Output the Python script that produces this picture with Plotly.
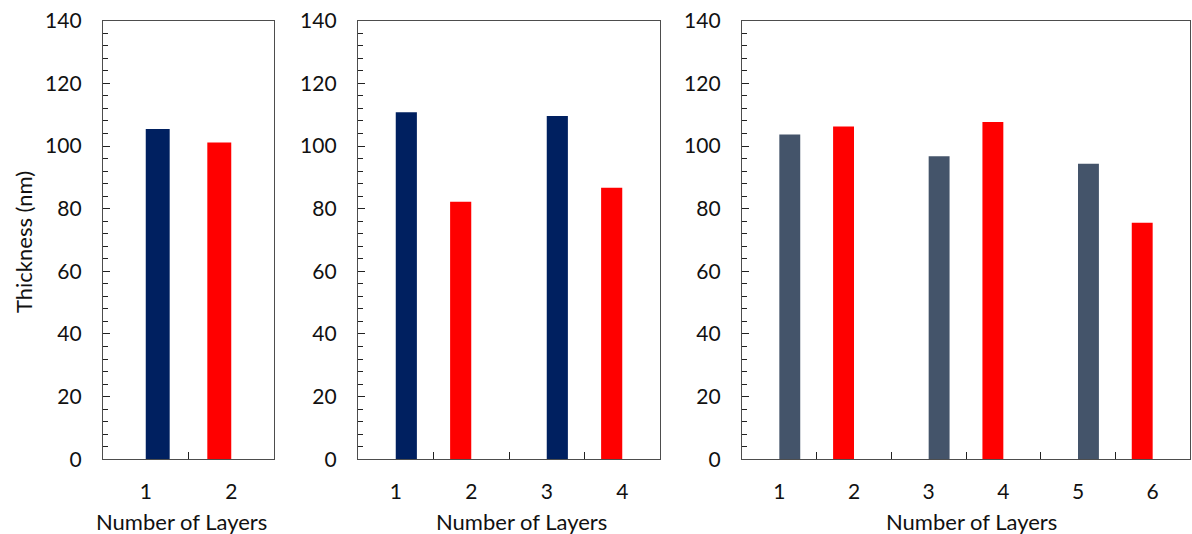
import plotly.graph_objects as go

# ---- data ----
p1_blue_layers = [1]
p1_blue_thickness = [105.4]
p1_red_layers = [2]
p1_red_thickness = [101.1]

p2_blue_layers = [1, 3]
p2_blue_thickness = [110.8, 109.6]
p2_red_layers = [2, 4]
p2_red_thickness = [82.2, 86.7]

p3_blue_layers = [1, 3, 5]
p3_blue_thickness = [103.7, 96.7, 94.3]
p3_red_layers = [2, 4, 6]
p3_red_thickness = [106.2, 107.7, 75.5]

panel_layers = [[1, 2], [1, 2, 3, 4], [1, 2, 3, 4, 5, 6]]
y_ticks = [0, 20, 40, 60, 80, 100, 120, 140]

NAVY = "#002060"
SLATE = "#44546A"
RED = "#FF0000"
LINE = "#4d4d4d"
FONT = "Lato"
FS = 21
FT = 22

W, H = 1192, 534
BW = 0.28

fig = go.Figure()

panels = [
    (p1_blue_layers, p1_blue_thickness, p1_red_layers, p1_red_thickness, NAVY),
    (p2_blue_layers, p2_blue_thickness, p2_red_layers, p2_red_thickness, NAVY),
    (p3_blue_layers, p3_blue_thickness, p3_red_layers, p3_red_thickness, SLATE),
]

# pixel positions of plot areas
xpix = [(103, 274), (358, 660), (742, 1190)]
ytop, ybot = 20.7, 459.3
ydom = [(H - ybot) / H, (H - ytop) / H]

for i, (bx, by, rx, ry, bcol) in enumerate(panels):
    sfx = "" if i == 0 else str(i + 1)
    fig.add_trace(go.Bar(x=bx, y=by, width=BW, offset=0, marker=dict(color=bcol, line=dict(width=0)),
                         xaxis="x" + sfx, yaxis="y" + sfx, showlegend=False))
    fig.add_trace(go.Bar(x=rx, y=ry, width=BW, offset=-BW, marker=dict(color=RED, line=dict(width=0)),
                         xaxis="x" + sfx, yaxis="y" + sfx, showlegend=False))

for i, layers in enumerate(panel_layers):
    sfx = "" if i == 0 else str(i + 1)
    n = len(layers)
    x0, x1 = xpix[i]
    fig.update_layout(**{
        "xaxis" + sfx: dict(
            domain=[x0 / W, x1 / W], anchor="y" + sfx, automargin=False,
            range=[0.5, n + 0.5], tickmode="array", tickvals=layers,
            ticktext=[str(v) for v in layers], ticks="",
            showline=True, mirror=True, linecolor=LINE, linewidth=1.4,
            showgrid=False, zeroline=False,
            tickfont=dict(family=FONT, size=FS, color="#111"),
            ticklabelstandoff=13,
            minor=dict(tickmode="array", tickvals=[v + 0.5 for v in layers[:-1]],
                       ticks="inside", ticklen=7, tickcolor="#222", tickwidth=1.2),
        ),
        "yaxis" + sfx: dict(
            domain=ydom, anchor="x" + sfx, automargin=False,
            range=[0, 140], tickmode="array", tickvals=y_ticks,
            ticks="inside", ticklen=7, tickcolor="#222", tickwidth=1.2,
            showline=True, mirror=True, linecolor=LINE, linewidth=1.4,
            showgrid=False, zeroline=False,
            tickfont=dict(family=FONT, size=FS, color="#111"),
            ticklabelstandoff=16,
            minor=dict(dtick=4, tick0=0, ticks="inside", ticklen=5, tickcolor="#222", tickwidth=1.2),
        ),
    })

title_font = dict(family=FONT, size=FT, color="#111")
annotations = [
    dict(text="Thickness (nm)", x=23 / W, y=(H - 242) / H, xref="paper", yref="paper",
         xanchor="center", yanchor="middle",
         textangle=-90, showarrow=False, font=title_font),
]
for cx in (181, 521, 971):
    annotations.append(dict(text="Number of Layers", x=cx / W, y=(H - 521) / H,
                            xref="paper", yref="paper", xanchor="center", yanchor="middle",
                            showarrow=False, font=title_font))

fig.update_layout(
    width=W, height=H, margin=dict(l=0, r=0, t=0, b=0),
    paper_bgcolor="white", plot_bgcolor="white",
    barmode="overlay", annotations=annotations,
    font=dict(family=FONT, size=FS, color="#111"),
)

fig.write_html("out.html", config={"displayModeBar": False},
               post_script="document.body.style.margin='0';document.body.style.padding='0';document.body.style.overflow='hidden';")
